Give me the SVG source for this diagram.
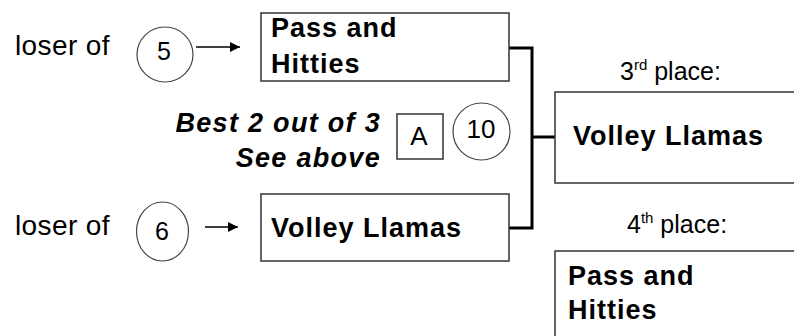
<svg xmlns="http://www.w3.org/2000/svg" width="794" height="336" viewBox="0 0 794 336">
<defs>
<style>
.box{fill:#fff;stroke:#333;stroke-width:1.5}
.circ{fill:#fff;stroke:#444;stroke-width:1.2}
.team{font-family:"Liberation Sans",Arial,sans-serif;font-weight:bold;font-size:27px;letter-spacing:1px;fill:#000}
.lbl{font-family:"Liberation Sans",Arial,sans-serif;font-size:28px;letter-spacing:0.4px;fill:#000}
.num{font-family:"Liberation Sans",Arial,sans-serif;font-size:25px;fill:#000;text-anchor:middle}
.place{font-family:"Liberation Sans",Arial,sans-serif;font-size:25px;fill:#000}
.note{font-family:"Liberation Sans",Arial,sans-serif;font-weight:bold;font-style:italic;font-size:27px;letter-spacing:1.3px;fill:#000;text-anchor:end}
.conn{fill:none;stroke:#000;stroke-width:3}
.arr{fill:none;stroke:#000;stroke-width:1.5}
</style>
<marker id="ah" viewBox="0 0 10 10" refX="10" refY="5" markerWidth="12" markerHeight="10" markerUnits="userSpaceOnUse" orient="auto">
<path d="M0,0 L10,5 L0,10 Z" fill="#000"/>
</marker>
</defs>
<rect width="794" height="336" fill="#fff"/>

<g id="connectors">
<path class="conn" d="M509,48 H532 V228 H509"/>
<path class="conn" d="M532,137 H555"/>
<line class="arr" x1="196" y1="47" x2="240" y2="47" marker-end="url(#ah)"/>
<line class="arr" x1="205" y1="227" x2="238" y2="227" marker-end="url(#ah)"/>
</g>

<g id="label-loser5">
<text class="lbl" x="15" y="55">loser of</text>
</g>
<g id="circle5">
<ellipse class="circ" cx="165" cy="54.5" rx="28" ry="27.5"/>
<text class="num" x="164" y="60">5</text>
</g>
<g id="box-top">
<rect class="box" x="261" y="13" width="248" height="68"/>
<text class="team" x="271" y="37">Pass and</text>
<text class="team" x="271" y="73">Hitties</text>
</g>

<g id="note">
<text class="note" x="381" y="132">Best 2 out of 3</text>
<text class="note" x="381" y="167">See above</text>
</g>
<g id="boxA">
<rect class="box" x="397" y="114" width="46" height="45"/>
<text class="num" x="419" y="145" style="font-size:26px">A</text>
</g>
<g id="circle10">
<circle class="circ" cx="481.5" cy="131.5" r="28.5"/>
<text class="num" x="481" y="138" style="font-size:26px">10</text>
</g>

<g id="label-loser6">
<text class="lbl" x="15" y="235">loser of</text>
</g>
<g id="circle6">
<ellipse class="circ" cx="162.5" cy="231.5" rx="26" ry="29.5"/>
<text class="num" x="162" y="240">6</text>
</g>
<g id="box-bottom">
<rect class="box" x="261" y="194" width="248" height="67"/>
<text class="team" x="271" y="237">Volley Llamas</text>
</g>

<g id="third">
<text class="place" x="620" y="80">3<tspan font-size="15" dy="-10">rd</tspan><tspan dy="10"> place:</tspan></text>
<rect class="box" x="555" y="92" width="250" height="91"/>
<text class="team" x="573" y="145">Volley Llamas</text>
</g>

<g id="fourth">
<text class="place" x="627" y="233">4<tspan font-size="15" dy="-10">th</tspan><tspan dy="10"> place:</tspan></text>
<rect class="box" x="555" y="251" width="250" height="100"/>
<text class="team" x="568" y="285">Pass and</text>
<text class="team" x="568" y="319">Hitties</text>
</g>
</svg>
